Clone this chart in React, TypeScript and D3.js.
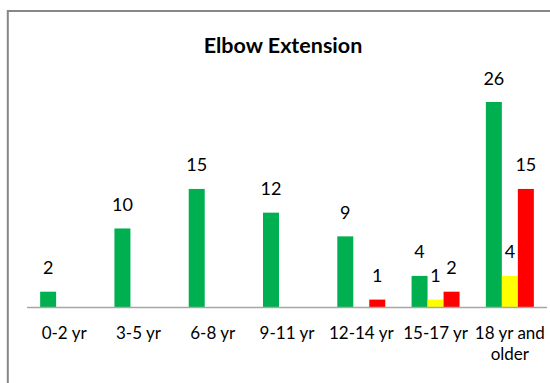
import React from "react";
import * as d3 from "d3";

const categories = ["0-2 yr", "3-5 yr", "6-8 yr", "9-11 yr", "12-14 yr", "15-17 yr", "18 yr and older"];
const categoryLines = [["0-2 yr"], ["3-5 yr"], ["6-8 yr"], ["9-11 yr"], ["12-14 yr"], ["15-17 yr"], ["18 yr and", "older"]];
const greenValues = [2, 10, 15, 12, 9, 4, 26];
const yellowValues = [0, 0, 0, 0, 0, 1, 4];
const redValues = [0, 0, 0, 0, 1, 2, 15];
const seriesNames = ["green", "yellow", "red"];
const seriesColors = ["#00B050", "#FFFF00", "#FF0000"];
const title = "Elbow Extension";

const W = 550;
const H = 383;

export default function App() {
  const series = [greenValues, yellowValues, redValues];
  const x = d3.scaleBand<string>().domain(categories).range([27, 547]).paddingInner(0.354).paddingOuter(0.177);
  const xs = d3.scaleBand<string>().domain(seriesNames).range([0, x.bandwidth()]);
  const y = d3.scaleLinear().domain([0, 26]).range([307.5, 102]);
  const font = "Lato, 'Open Sans', sans-serif";

  return (
    <svg width={W} height={H} style={{ position: "absolute", left: 0, top: 0, background: "#fff" }}>
      <rect x={7.8} y={11} width={W + 20} height={H + 20} fill="#fff" stroke="#878787" strokeWidth={2} />
      <text x={283} y={53} textAnchor="middle" fontFamily={font} fontWeight="bold" fontSize={21.5} fill="#000">
        {title}
      </text>
      {categories.map((c, i) => (
        <g key={c}>
          {series.map((vals, s) => {
            const v = vals[i];
            if (!v) return null;
            const bx = (x(c) ?? 0) + (xs(seriesNames[s]) ?? 0);
            return (
              <g key={s}>
                <rect x={bx} y={y(v)} width={xs.bandwidth()} height={y(0) - y(v)} fill={seriesColors[s]} />
                <text
                  x={bx + xs.bandwidth() / 2}
                  y={y(v) - 17.5}
                  textAnchor="middle"
                  fontFamily={font}
                  fontSize={18}
                  fill="#000"
                >
                  {v}
                </text>
              </g>
            );
          })}
          {categoryLines[i].map((line, k) => (
            <text
              key={k}
              x={(x(c) ?? 0) + x.bandwidth() / 2}
              y={339 + k * 20.5}
              textAnchor="middle"
              fontFamily={font}
              fontSize={17}
              fill="#000"
            >
              {line}
            </text>
          ))}
        </g>
      ))}
      <line x1={27} x2={547} y1={y(0)} y2={y(0)} stroke="#A6A6A6" strokeWidth={1.5} />
    </svg>
  );
}
